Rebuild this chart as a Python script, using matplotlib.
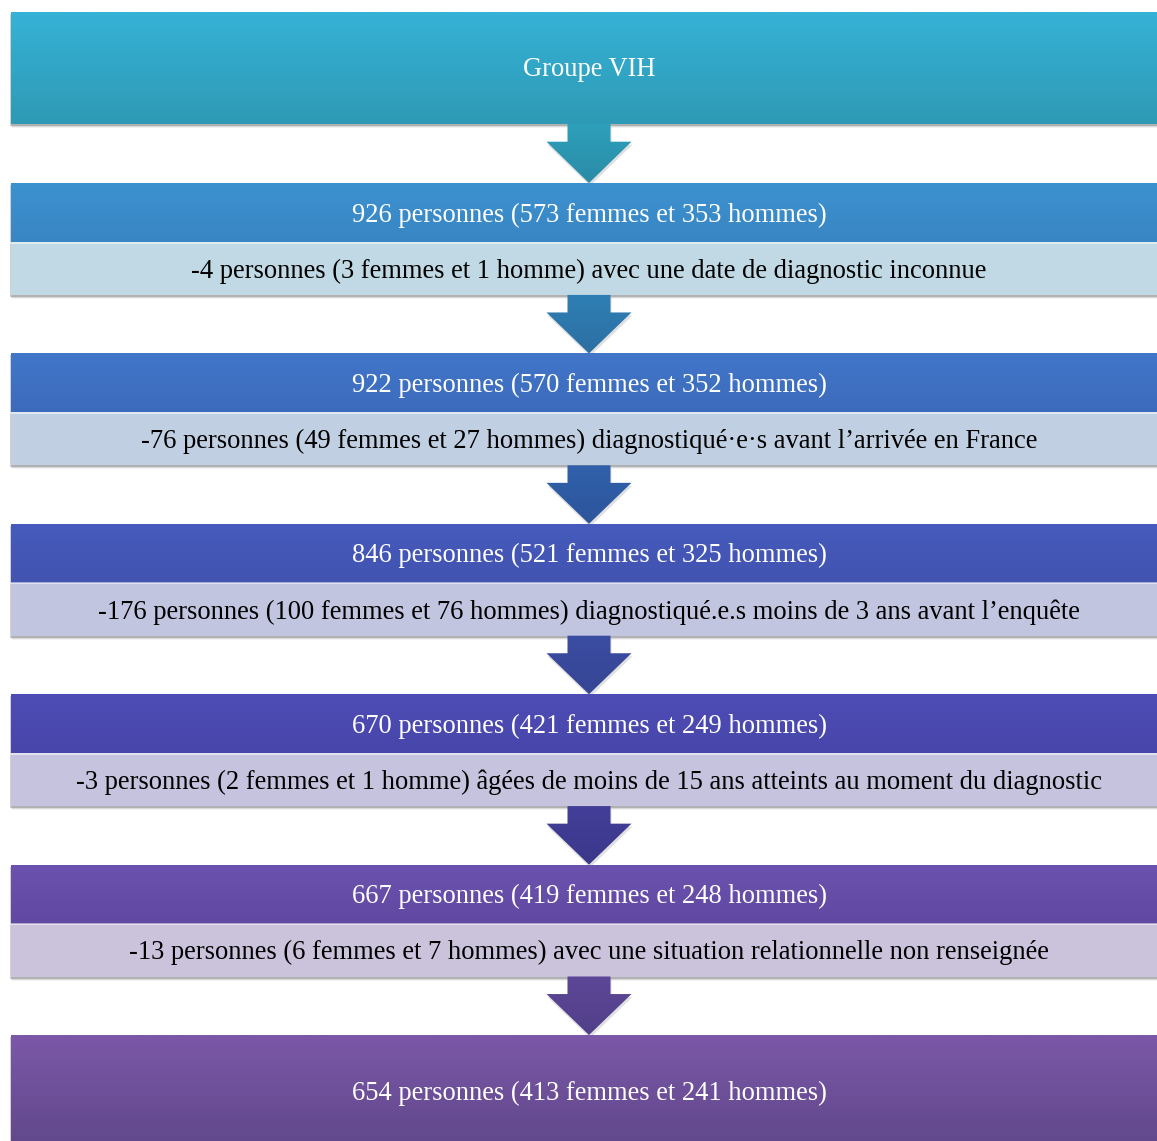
import numpy as np
import matplotlib
matplotlib.use("Agg")
import matplotlib.pyplot as plt
from matplotlib.patches import Rectangle, Polygon
from matplotlib.colors import to_rgb

# Texts of the flowchart
titre = "Groupe VIH"
effectifs = [
    "926 personnes (573 femmes et 353 hommes)",
    "922 personnes (570 femmes et 352 hommes)",
    "846 personnes (521 femmes et 325 hommes)",
    "670 personnes (421 femmes et 249 hommes)",
    "667 personnes (419 femmes et 248 hommes)",
]
exclusions = [
    "-4 personnes (3 femmes et 1 homme) avec une date de diagnostic inconnue",
    "-76 personnes (49 femmes et 27 hommes) diagnostiqué·e·s avant l\u2019arrivée en France",
    "-176 personnes (100 femmes et 76 hommes) diagnostiqué.e.s moins de 3 ans avant l\u2019enquête",
    "-3 personnes (2 femmes et 1 homme) âgées de moins de 15 ans atteints au moment du diagnostic",
    "-13 personnes (6 femmes et 7 hommes) avec une situation relationnelle non renseignée",
]
final = "654 personnes (413 femmes et 241 hommes)"

# colours
top_col = ("#36b2d6", "#2e9ab5")
dark_cols = [("#3c91cf", "#3a86c4"), ("#4176c9", "#3d6bbc"), ("#465bbd", "#4253b0"),
             ("#4e4db6", "#4846aa"), ("#6a52ae", "#6149a2")]
light_cols = ["#c0d9e4", "#c0cfe2", "#c2c5e0", "#c6c3de", "#cbc3dc"]
arrow_cols = [("#2ea0bb", "#2a8ba6"), ("#2f7fb4", "#2c6fa3"), ("#3061aa", "#2d559c"),
              ("#3b4da3", "#364594"), ("#433f99", "#3b378a"), ("#5c4797", "#523f88")]
final_col = ("#7b58a8", "#60478a")

W, H = 1157, 1141
fig = plt.figure(figsize=(W / 100, H / 100), dpi=100)
ax = fig.add_axes([0, 0, 1, 1])
ax.set_xlim(0, W)
ax.set_ylim(H, 0)
ax.axis("off")

font = ["Liberation Serif", "DejaVu Serif"]
fs = 19.1
x0, x1 = 11, 1160


def gradient_box(y0, y1, c_top, c_bot, z=2):
    a, b = np.array(to_rgb(c_top)), np.array(to_rgb(c_bot))
    t = np.linspace(0, 1, 64)[:, None]
    img = (a * (1 - t) + b * t)[:, None, :]
    ax.imshow(img, extent=(x0, x1, y1, y0), aspect="auto", zorder=z, interpolation="bilinear")


def shadow(y0, y1):
    for k, al in enumerate([0.18, 0.10, 0.05]):
        ax.add_patch(Rectangle((x0 - 1 + k, y0 + 2 + k), x1 - x0, y1 - y0,
                               color="#000000", alpha=al, lw=0, zorder=1))


def arrow(y0, y1, c_top, c_bot):
    cx = 589
    ytri = y0 + (y1 - y0) * 0.30
    pts = [(cx - 21.5, y0), (cx + 21.5, y0), (cx + 21.5, ytri), (cx + 42.5, ytri),
           (cx, y1), (cx - 42.5, ytri), (cx - 21.5, ytri)]
    sh = Polygon([(p[0] + 1, p[1] + 3) for p in pts], closed=True, color="#000000",
                 alpha=0.12, lw=0, zorder=1)
    ax.add_patch(sh)
    poly = Polygon(pts, closed=True, facecolor="none", edgecolor="none", zorder=3)
    ax.add_patch(poly)
    a, b = np.array(to_rgb(c_top)), np.array(to_rgb(c_bot))
    t = np.linspace(0, 1, 64)[:, None]
    img = (a * (1 - t) + b * t)[:, None, :]
    im = ax.imshow(img, extent=(cx - 43, cx + 43, y1, y0), aspect="auto", zorder=3)
    im.set_clip_path(poly)


# top box
shadow(12, 124)
gradient_box(12, 124, *top_col)
ax.text(589, 70, titre, ha="center", va="center", color="white", fontsize=fs,
        family=font, zorder=5)

pas = 170.4
for i in range(5):
    yb = 183 + i * pas
    ya = yb - 58.5 if i > 0 else 124
    arrow(ya, yb, *arrow_cols[i])
    shadow(yb, yb + 112)
    gradient_box(yb, yb + 59, *dark_cols[i])
    ax.add_patch(Rectangle((x0, yb + 59), x1 - x0, 53, facecolor=light_cols[i],
                           edgecolor="none", zorder=2))
    ax.plot([x0, x1], [yb + 59.5, yb + 59.5], color="white", lw=1.2, alpha=0.6, zorder=4)
    ax.text(589, yb + 32, effectifs[i], ha="center", va="center", color="white",
            fontsize=fs, family=font, zorder=5)
    ax.text(589, yb + 88, exclusions[i], ha="center", va="center", color="black",
            fontsize=fs, family=font, zorder=5)

yf = 183 + 5 * pas
arrow(yf - 58.5, yf, *arrow_cols[5])
shadow(yf, yf + 115)
gradient_box(yf, yf + 115, *final_col)
ax.text(589, 1093, final, ha="center", va="center", color="white", fontsize=fs,
        family=font, zorder=5)

fig.savefig("out.png", dpi=100)
